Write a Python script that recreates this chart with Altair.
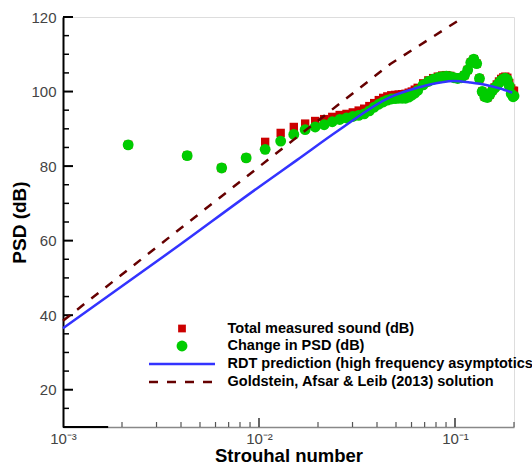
import altair as alt
import pandas as pd

# ---------------- data ----------------
st = [0.00215, 0.0043, 0.00645, 0.0086, 0.01075, 0.0129, 0.01505, 0.0172, 0.01935, 0.0215,
      0.02365, 0.0258, 0.02795, 0.0301, 0.03225, 0.0344, 0.03655, 0.0387, 0.04085, 0.043,
      0.04515, 0.0473, 0.04945, 0.0516, 0.05375, 0.0559, 0.05805, 0.0602, 0.06235, 0.0645,
      0.0688, 0.0731, 0.0774, 0.0817, 0.086, 0.0903, 0.0946, 0.0989, 0.1032, 0.1075,
      0.1118, 0.1161, 0.1204, 0.1247, 0.129, 0.1333, 0.1376, 0.1419, 0.1462, 0.1505,
      0.1548, 0.1591, 0.1634, 0.1677, 0.172, 0.1763, 0.1806, 0.1849, 0.1892, 0.1935,
      0.1978, 0.2]
change_psd = [85.7, 82.8, 79.5, 82.2, 84.5, 86.7, 88.5, 89.8, 90.5, 91.1,
              91.9, 92.5, 92.9, 93.3, 93.6, 94.0, 94.8, 95.8, 96.6, 97.2,
              97.7, 98.0, 98.1, 98.2, 98.2, 98.2, 98.5, 99.0, 99.6, 100.3,
              101.8, 102.7, 103.3, 103.7, 104.0, 104.1, 104.0, 103.7, 103.5, 103.7,
              104.4, 105.8, 107.8, 108.7, 107.5, 103.5, 100.0, 98.6, 98.4, 99.2,
              100.2, 100.9, 101.5, 102.3, 103.0, 103.4, 103.6, 103.2, 101.5, 99.4,
              98.6, 98.8]
total_sound = [85.7, 82.8, 79.5, 82.2, 86.5, 88.9, 90.5, 91.4, 92.1, 92.6,
               93.2, 93.7, 94.0, 94.4, 94.9, 95.4, 96.1, 96.9, 97.7, 98.3,
               98.7, 99.0, 99.1, 99.2, 99.3, 99.4, 99.7, 100.0, 100.5, 101.0,
               102.2, 103.0, 103.6, 104.0, 104.3, 104.4, 104.2, 103.8, 103.6, 103.8,
               104.4, 105.8, 107.8, 108.7, 107.5, 103.5, 100.0, 98.6, 98.4, 99.2,
               100.3, 101.1, 101.9, 102.7, 103.4, 103.8, 104.0, 103.7, 102.3, 100.8,
               100.2, 100.2]

rdt_st = [0.001, 0.00374, 0.01, 0.0156, 0.0255, 0.0468, 0.0665, 0.0841, 0.0984, 0.12, 0.146, 0.17, 0.196]
rdt_psd = [36.5, 58.0, 74.4, 81.6, 89.6, 98.5, 101.2, 102.4, 102.8, 102.4, 101.7, 100.8, 99.7]

gal_st = [0.001, 0.01, 0.0468, 0.108]
gal_psd = [38.5, 79.8, 107.4, 119.6]

legend_labels = ["Total measured sound (dB)", "Change in PSD (dB)",
                 "RDT prediction (high frequency asymptotics)",
                 "Goldstein, Afsar & Leib (2013) solution"]

y_major_ticks = [20, 40, 60, 80, 100, 120]
y_minor_ticks = [15, 25, 30, 35, 45, 50, 55, 65, 70, 75, 85, 90, 95, 105, 110, 115]
x_major_ticks = [0.01, 0.1]
x_minor_ticks = [0.002, 0.003, 0.004, 0.005, 0.006, 0.007, 0.008, 0.009,
                 0.02, 0.03, 0.04, 0.05, 0.06, 0.07, 0.08, 0.09, 0.2]
base_segment = {"x0": [0.001], "x1": [0.0017], "y": [10]}

# ---------------- chart ----------------
W, H = 451, 410
FONT = "Liberation Sans"
xs = alt.Scale(type="log", domain=[0.001, 0.2], nice=False)
ys = alt.Scale(domain=[10, 120], nice=False, zero=False)

x_axis = alt.Axis(values=[0.001, 0.01, 0.1], ticks=False, grid=False,
                  labelExpr="datum.value < 0.005 ? '10\u207b\u00b3' : (datum.value < 0.05 ? '10\u207b\u00b2' : '10\u207b\u00b9')",
                  labelFlush=False, labelPadding=4, labelFontSize=15, labelColor="#444", labelFont=FONT,
                  domainColor="#888", domainWidth=1.5,
                  title="Strouhal number", titleFontSize=18.5, titleFont=FONT, titleFontWeight="bold",
                  titleColor="black", titleBaseline="middle", titleY=28.5)
y_axis = alt.Axis(values=y_major_ticks, ticks=False, grid=False,
                  labelPadding=7, labelFontSize=15, labelColor="#444", labelFont=FONT,
                  domainColor="black", domainWidth=2,
                  title="PSD (dB)", titleFontSize=19, titleFont=FONT, titleFontWeight="bold",
                  titleColor="black", titleBaseline="middle", titleX=-44, titleY=205, titleAngle=270)


def X(field, **kw):
    return alt.X(field, scale=xs, axis=x_axis, **kw)


def Y(field, **kw):
    return alt.Y(field, scale=ys, axis=y_axis, **kw)


meas = pd.DataFrame({"st": st, "total": total_sound, "change": change_psd})

red = alt.Chart(meas).mark_square(size=70, color="#cc0000", opacity=1).encode(
    x=X("st:Q"), y=Y("total:Q"))
green = alt.Chart(meas).mark_circle(size=118, color="#00cc00", opacity=1).encode(
    x=X("st:Q"), y=Y("change:Q"))
rdt = alt.Chart(pd.DataFrame({"st": rdt_st, "psd": rdt_psd})).mark_line(
    color="#3333ff", strokeWidth=2.5, interpolate="monotone").encode(
    x=X("st:Q"), y=Y("psd:Q"))
gal = alt.Chart(pd.DataFrame({"st": gal_st, "psd": gal_psd})).mark_line(
    color="#660000", strokeWidth=2.5, strokeDash=[9, 9]).encode(
    x=X("st:Q"), y=Y("psd:Q"))

ymaj = alt.Chart(pd.DataFrame({"st": y_major_ticks})).mark_rule(color="black", strokeWidth=2).encode(
    y=Y("st:Q"), x=alt.value(0), x2=alt.value(10))
ymin = alt.Chart(pd.DataFrame({"st": y_minor_ticks})).mark_rule(color="black", strokeWidth=1.5).encode(
    y=Y("st:Q"), x=alt.value(0), x2=alt.value(6))
xmaj = alt.Chart(pd.DataFrame({"st": x_major_ticks})).mark_rule(color="#333", strokeWidth=1.5).encode(
    x=X("st:Q"), y=alt.value(H), y2=alt.value(H - 9))
xmin = alt.Chart(pd.DataFrame({"st": x_minor_ticks})).mark_rule(color="#555", strokeWidth=1.2).encode(
    x=X("st:Q"), y=alt.value(H), y2=alt.value(H - 5))
seg = alt.Chart(pd.DataFrame(base_segment)).mark_rule(color="black", strokeWidth=2).encode(
    x=X("x0:Q"), x2="x1:Q", y=Y("y:Q"))

# legend (manual, inside plot)
LX_SYM, LX_TXT = 119, 164.5
LY = [311.5, 329, 347, 365]
one = [pd.DataFrame({"label": [lab]}) for lab in legend_labels]
leg_layers = []
for i, lab in enumerate(legend_labels):
    leg_layers.append(alt.Chart(one[i]).mark_text(
        align="left", baseline="middle", fontSize=14.5, fontWeight="bold", font=FONT, color="black").encode(
        x=alt.value(LX_TXT), y=alt.value(LY[i]), text="label:N"))
leg_layers.append(alt.Chart(one[0]).mark_square(size=60, color="#cc0000", opacity=1).encode(
    x=alt.value(LX_SYM), y=alt.value(LY[0])))
leg_layers.append(alt.Chart(one[1]).mark_circle(size=118, color="#00cc00", opacity=1).encode(
    x=alt.value(LX_SYM), y=alt.value(LY[1])))
leg_layers.append(alt.Chart(one[2]).mark_rule(color="#3333ff", strokeWidth=2.5).encode(
    x=alt.value(LX_SYM - 33), x2=alt.value(LX_SYM + 33), y=alt.value(LY[2])))
leg_layers.append(alt.Chart(one[3]).mark_rule(color="#660000", strokeWidth=2.5, strokeDash=[9, 9]).encode(
    x=alt.value(LX_SYM - 33), x2=alt.value(LX_SYM + 33), y=alt.value(LY[3])))

chart = alt.layer(ymaj, ymin, xmaj, xmin, seg, red, green, rdt, gal, *leg_layers).properties(
    width=W, height=H,
    padding={"left": 63, "top": 17, "right": 18, "bottom": 38},
    autosize=alt.AutoSizeParams(type="none"),
).configure_view(stroke=None).configure(font=FONT)

chart.save("out.html", embed_options={"renderer": "svg", "actions": False})
